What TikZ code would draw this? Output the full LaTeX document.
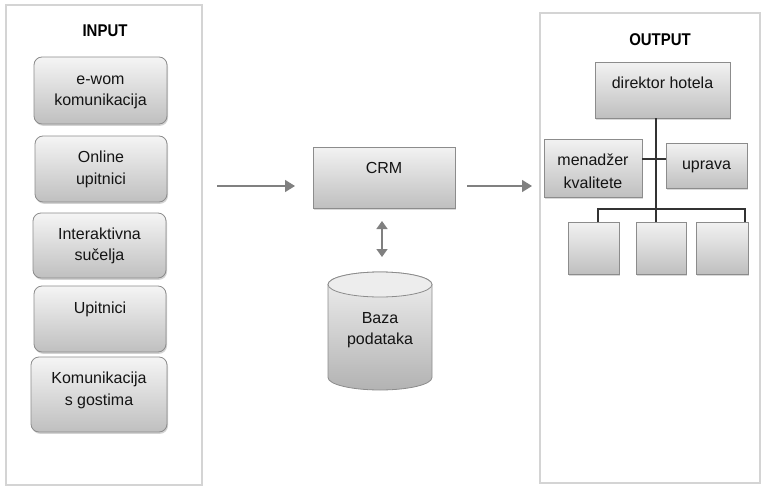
\documentclass[tikz,border=0pt]{standalone}
\usepackage{fontspec}
\setmainfont{Liberation Sans}
\newfontfamily\hdrfont[FakeStretch=0.88]{Liberation Sans Bold}
\usetikzlibrary{arrows.meta,shadows}
\begin{document}
\begin{tikzpicture}[x=1pt,y=-1pt,
  frame/.style={draw=black!17,line width=1.4pt},
  lbox/.style={draw=black!45,line width=0.8pt,rounded corners=8pt,top color=black!4,bottom color=black!25,
    inner sep=0pt,outer sep=0pt,drop shadow={shadow xshift=1pt,shadow yshift=-1.8pt,opacity=0.35}},
  rbox/.style={draw=black!45,line width=0.8pt,top color=black!5,bottom color=black!25,
    inner sep=0pt,outer sep=0pt,drop shadow={shadow xshift=1pt,shadow yshift=-1.5pt,opacity=0.3}},
  txt/.style={anchor=north,align=center,inner sep=0pt,text=black!92,font=\fontsize{16}{21.5}\selectfont},
  hdr/.style={inner sep=0pt,font=\hdrfont\fontsize{17}{20}\selectfont,text=black},
  flow/.style={draw=black!50,line width=1.5pt,-{Triangle[length=10pt,width=12pt]}},
  org/.style={draw=black!80,line width=1.3pt}
]
\useasboundingbox (0,0) rectangle (762,487);
% containers
\node[frame,minimum width=196pt,minimum height=480pt,inner sep=0pt] (inframe) at (104,245) {};
\node[frame,minimum width=220pt,minimum height=470pt,inner sep=0pt] (outframe) at (650,248) {};
\node[hdr] (inhdr) at (105,31) {INPUT};
\node[hdr] (outhdr) at (660,40) {OUTPUT};
% input boxes
\node[lbox,minimum width=133pt,minimum height=67pt] (in1) at (100.5,90.5) {};
\node[lbox,minimum width=132pt,minimum height=66pt] (in2) at (101,169) {};
\node[lbox,minimum width=133pt,minimum height=65pt] (in3) at (99.5,245.5) {};
\node[lbox,minimum width=132pt,minimum height=66pt] (in4) at (100,319) {};
\node[lbox,minimum width=136pt,minimum height=75pt] (in5) at (99,394.5) {};
\node[txt] (in1t) at ([yshift=-12pt]in1.north) {\strut e-wom\\komunikacija};
\node[txt] (in2t) at ([yshift=-11.5pt]in2.north) {\strut Online\\upitnici};
\node[txt] (in3t) at ([yshift=-11pt]in3.north) {\strut Interaktivna\\sučelja};
\node[txt] (in4t) at ([yshift=-12pt]in4.north) {\strut Upitnici};
\node[txt] (in5t) at ([yshift=-11.5pt]in5.north) {\strut Komunikacija\\s gostima};
% CRM
\node[rbox,minimum width=142pt,minimum height=61pt] (crm) at (384,177.5) {};
\node[txt] (crmt) at ([yshift=-11pt]crm.north) {\strut CRM};
% database cylinder
\node[inner sep=0pt,minimum width=104pt,minimum height=118pt] (db) at (380,331) {};
\path[draw=black!45,line width=0.8pt,top color=black!6,bottom color=black!30]
  (328,284.5) -- (328,377.5) arc[start angle=180,end angle=360,x radius=52pt,y radius=12.5pt]
  -- (432,284.5) arc[start angle=0,end angle=180,x radius=52pt,y radius=12.5pt] -- cycle;
\path[draw=black!45,line width=0.8pt,fill=black!7] (380,284.5) ellipse[x radius=52pt,y radius=12.5pt];
\node[txt] (dbt) at (380,308) {\strut Baza\\podataka};
% flow arrows
\coordinate (a1s) at (217,186);
\coordinate (a1e) at (295,186);
\coordinate (a2s) at (467,186);
\coordinate (a2e) at (532,186);
\coordinate (a3s) at (382,221);
\coordinate (a3e) at (382,257);
\draw[flow] (a1s) -- (a1e);
\draw[flow] (a2s) -- (a2e);
\draw[draw=black!50,line width=1.5pt,{Triangle[length=8pt,width=11pt]}-{Triangle[length=8pt,width=11pt]}] (a3s) -- (a3e);
% org chart
\node[rbox,minimum width=135pt,minimum height=56pt] (dir) at (662.5,90) {};
\node[txt] (dirt) at ([yshift=-11pt]dir.north) {\strut direktor hotela};
\node[rbox,minimum width=98pt,minimum height=58pt] (mgr) at (593,168) {};
\node[txt,font=\fontsize{16}{23}\selectfont] (mgrt) at ([yshift=-10pt]mgr.north) {\strut menadžer\\kvalitete};
\node[rbox,minimum width=81pt,minimum height=45pt] (upr) at (706.5,165.5) {};
\node[txt] (uprt) at ([yshift=-11pt]upr.north) {\strut uprava};
\node[rbox,minimum width=51pt,minimum height=52pt] (b1) at (593.5,248) {};
\node[rbox,minimum width=50pt,minimum height=52pt] (b2) at (661,248) {};
\node[rbox,minimum width=52pt,minimum height=52pt] (b3) at (722,248) {};
\coordinate (sp) at (656,0);
\coordinate (hl) at (0,159);
\draw[org] (dir.south -| sp) -- (sp |- b2.north);
\draw[org] (mgr.east |- hl) -- (upr.west |- hl);
\draw[org] ([xshift=4.5pt]b1.north) -- ++(0,-13) -| ([xshift=23pt]b3.north);
\end{tikzpicture}
\end{document}
